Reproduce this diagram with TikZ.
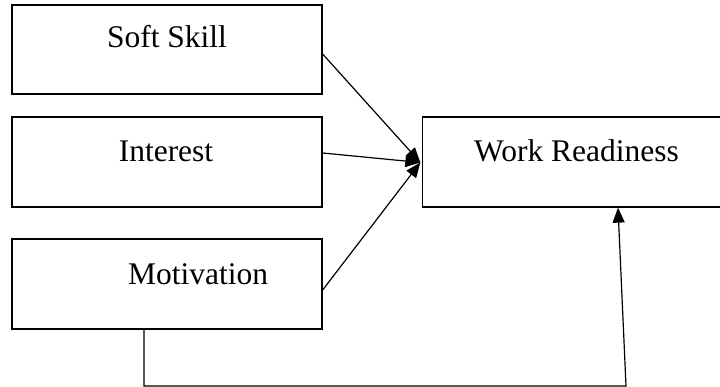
\documentclass[tikz,border=0pt]{standalone}
\usepackage{fontspec}
\setmainfont{Liberation Serif}
\usetikzlibrary{arrows.meta,calc}
\begin{document}
\begin{tikzpicture}[x=1pt,y=-1pt,
  box/.style={draw=black,line width=1.3pt,rectangle,inner sep=0pt,minimum width=310pt,minimum height=90pt},
  lbl/.style={anchor=base,inner sep=0pt,font=\fontsize{31.5}{36}\selectfont},
  link/.style={draw=black,line width=1.2pt},
  tip/.style={-{Triangle[length=15pt,width=12pt]}}]
  \useasboundingbox (0,0) rectangle (720,387);
  % input constructs
  \node[box,minimum height=89pt] (soft) at (167,49.5) {};
  \node[box] (inter) at (167,162) {};
  \node[box] (motiv) at (167,284) {};
  % outcome, running off the right edge
  \node[box,minimum width=300pt] (work) at (572.5,162) {};
  % labels
  \node[lbl] (tsoft) at (167,48) {Soft Skill};
  \node[lbl] (tinter) at (166,162) {Interest};
  \node[lbl] (tmotiv) at (198,285) {Motivation};
  \node[lbl] (twork) at (576.5,162) {Work Readiness};
  % connection points
  \coordinate (hub) at ([xshift=-1.5pt,yshift=-0.5pt]work.west);
  \coordinate (s1) at ([yshift=-4.5pt]soft.east);
  \coordinate (s2) at ([yshift=9pt]inter.east);
  \coordinate (s3) at ([yshift=-6pt]motiv.east);
  \coordinate (m0) at ([xshift=-23pt]motiv.south);
  \coordinate (m1) at (144,386);
  \coordinate (m2) at (626,386);
  \coordinate (w0) at ([xshift=45.5pt]work.south);
  % arrows into the outcome
  \draw[link,tip] (s1) -- (hub);
  \draw[link,tip] (s2) -- (hub);
  \draw[link,tip] (s3) -- (hub);
  \draw[link,tip] (m0) -- (m1) -- (m2) -- (w0);
\end{tikzpicture}
\end{document}
